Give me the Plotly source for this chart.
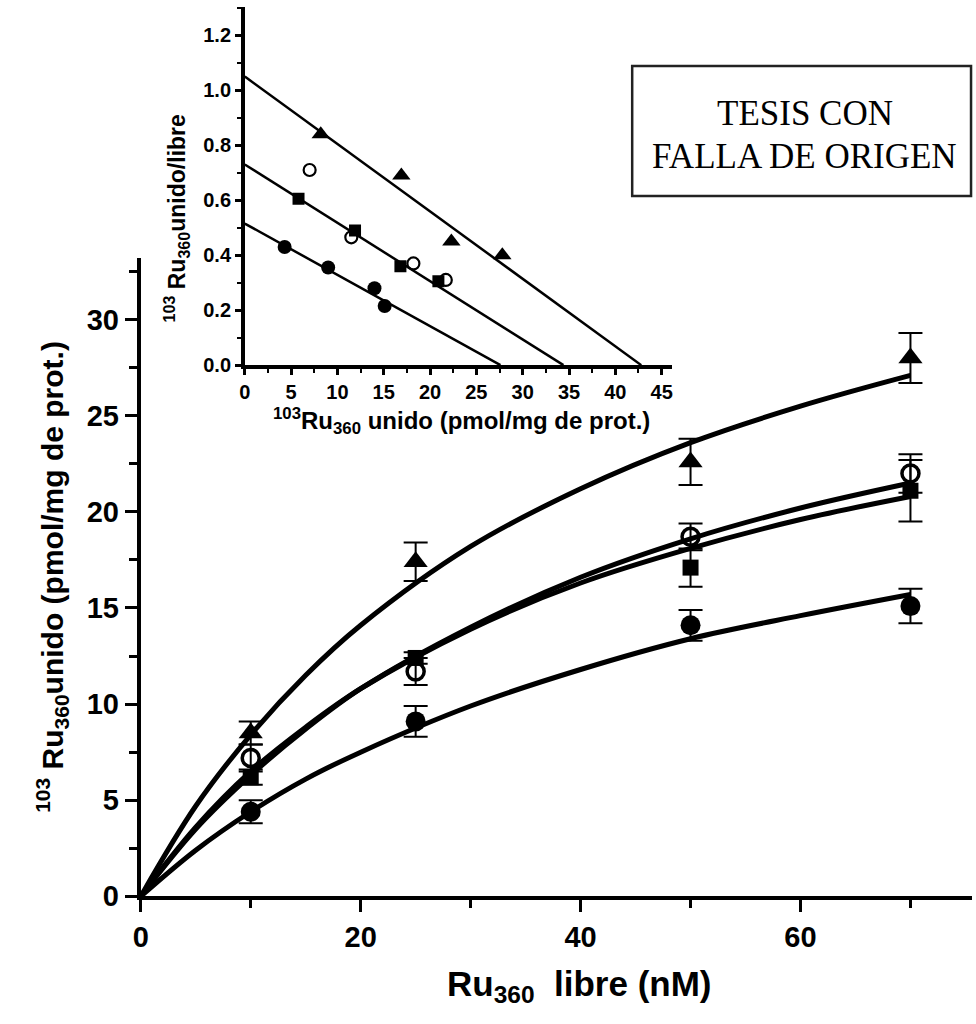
import plotly.graph_objects as go

# ---------------- data ----------------
free_nM = [10, 25, 50, 70]

bound_triangle = [8.5, 17.4, 22.6, 28.0]
err_triangle = [0.6, 1.0, 1.2, 1.3]
bound_open = [7.2, 11.7, 18.7, 22.0]
err_open = [0.7, 0.7, 0.7, 1.0]
bound_square = [6.2, 12.4, 17.1, 21.1]
err_square = [0.4, 0.3, 1.0, 1.6]
bound_filled = [4.4, 9.1, 14.1, 15.1]
err_filled = [0.6, 0.8, 0.8, 0.9]

curve_x = [0, 5, 10, 15, 20, 30, 40, 50, 60, 70]
curve_triangle = [0, 4.7, 8.4, 11.5, 14.1, 18.2, 21.2, 23.6, 25.5, 27.1]
curve_open = [0, 3.5, 6.3, 8.7, 10.8, 14.0, 16.6, 18.6, 20.2, 21.5]
curve_square = [0, 3.6, 6.5, 8.8, 10.8, 13.9, 16.3, 18.1, 19.6, 20.8]
curve_filled = [0, 2.4, 4.4, 6.1, 7.5, 9.9, 11.8, 13.4, 14.6, 15.7]

# Scatchard inset
scat_tri_x = [8.2, 16.9, 22.3, 27.8]
scat_tri_y = [0.84, 0.69, 0.45, 0.40]
scat_open_x = [7.0, 11.5, 18.2, 21.7]
scat_open_y = [0.71, 0.465, 0.37, 0.31]
scat_sq_x = [5.8, 11.9, 16.8, 20.9]
scat_sq_y = [0.605, 0.49, 0.36, 0.305]
scat_fill_x = [4.3, 9.0, 14.0, 15.1]
scat_fill_y = [0.43, 0.355, 0.28, 0.215]

line_top_x = [0, 42.8]
line_top_y = [1.05, 0]
line_mid_x = [0, 34.4]
line_mid_y = [0.73, 0]
line_low_x = [0, 27.6]
line_low_y = [0.515, 0]

main_xticks = [0, 20, 40, 60]
main_yticks = [0, 5, 10, 15, 20, 25, 30]
inset_xticks = [0, 5, 10, 15, 20, 25, 30, 35, 40, 45]
inset_yticks = [0.0, 0.2, 0.4, 0.6, 0.8, 1.0, 1.2]

stamp_lines = ["TESIS CON", "FALLA DE ORIGEN"]

# ---------------- figure ----------------
W, H = 976, 1024
YS = 0.984   # vertical compensation observed in the rendered page
FONT = "Liberation Sans, Arial, sans-serif"
fig = go.Figure()

# fitted curves (main)
for cy in [curve_triangle, curve_open, curve_square, curve_filled]:
    fig.add_trace(go.Scatter(x=curve_x, y=cy, mode="lines",
                             line=dict(color="black", width=5, shape="spline"),
                             xaxis="x", yaxis="y", hoverinfo="skip"))

def pts(y, err, symbol, size, lw=0):
    fig.add_trace(go.Scatter(
        x=free_nM, y=y, mode="markers",
        marker=dict(symbol=symbol, size=size, color="black",
                    line=dict(color="black", width=lw)),
        error_y=dict(type="data", array=err, visible=True, color="black",
                     thickness=2, width=12),
        xaxis="x", yaxis="y"))

pts(bound_triangle, err_triangle, "triangle-up", 21)
pts(bound_square, err_square, "square", 16)
pts(bound_filled, err_filled, "circle", 20)
pts(bound_open, err_open, "circle-open", 17, lw=3.5)

# inset lines
for lx, ly in [(line_top_x, line_top_y), (line_mid_x, line_mid_y), (line_low_x, line_low_y)]:
    fig.add_trace(go.Scatter(x=lx, y=ly, mode="lines",
                             line=dict(color="black", width=2.5),
                             xaxis="x2", yaxis="y2", hoverinfo="skip"))

def ipts(x, y, symbol, size, lw=0):
    fig.add_trace(go.Scatter(x=x, y=y, mode="markers",
                             marker=dict(symbol=symbol, size=size, color="black",
                                         line=dict(color="black", width=lw)),
                             xaxis="x2", yaxis="y2"))

ipts(scat_tri_x, scat_tri_y, "triangle-up", 16)
ipts(scat_sq_x, scat_sq_y, "square", 12)
ipts(scat_fill_x, scat_fill_y, "circle", 14)
ipts(scat_open_x, scat_open_y, "circle-open", 12, lw=2.2)

def px_x(p):
    return p / W

def px_y(p):
    return max(0.0, 1 - p / (H * YS))

axis_common = dict(showgrid=False, zeroline=False, showline=True, linecolor="black",
                   ticks="outside", tickcolor="black")

fig.update_layout(
    width=W, height=H,
    margin=dict(l=0, r=0, t=0, b=0),
    paper_bgcolor="white", plot_bgcolor="rgba(0,0,0,0)",
    showlegend=False,
    font=dict(family=FONT, color="black"),
    xaxis=dict(**axis_common, domain=[px_x(134), px_x(973)], range=[0, 75.6],
               linewidth=4, ticklen=12, tickwidth=3,
               tickvals=main_xticks,
               tickfont=dict(size=29, weight="bold", family=FONT),
               minor=dict(tickvals=[10, 30, 50, 70], ticklen=8, tickwidth=3,
                          tickcolor="black", ticks="outside"),
               anchor="y"),
    yaxis=dict(**axis_common, domain=[px_y(896), px_y(258)], range=[0, 33.2],
               linewidth=4, ticklen=12, tickwidth=3,
               tickvals=main_yticks,
               tickfont=dict(size=29, weight="bold", family=FONT),
               minor=dict(dtick=2.5, ticklen=8, tickwidth=3,
                          tickcolor="black", ticks="outside"),
               anchor="x"),
    xaxis2=dict(**axis_common, domain=[px_x(239), px_x(670)], range=[0, 46.1],
                linewidth=3.5, ticklen=6, tickwidth=2.5,
                tickvals=inset_xticks,
                tickfont=dict(size=20, weight="bold", family=FONT),
                minor=dict(dtick=2.5, ticklen=4, tickwidth=2,
                           tickcolor="black", ticks="outside"),
                anchor="y2"),
    yaxis2=dict(**axis_common, domain=[px_y(365), px_y(7)], range=[0, 1.303],
                linewidth=3.5, ticklen=6, tickwidth=2.5,
                tickvals=inset_yticks, tickformat=".1f",
                tickfont=dict(size=20, weight="bold", family=FONT),
                minor=dict(dtick=0.1, ticklen=4, tickwidth=2,
                           tickcolor="black", ticks="outside"),
                anchor="x2"),
)

annotations = [
    dict(text="<sup>103</sup> Ru<sub>360</sub>unido (pmol/mg de prot.)",
         x=px_x(45), y=px_y(577), textangle=-90,
         font=dict(size=30, weight="bold", family=FONT)),
    dict(text="Ru<sub>360</sub>  libre (nM)",
         x=px_x(576), y=px_y(986),
         font=dict(size=35, weight="bold", family=FONT)),
    dict(text="<sup>103</sup> Ru<sub>360</sub>unido/libre",
         x=px_x(170), y=px_y(218), textangle=-90,
         font=dict(size=23, weight="bold", family=FONT)),
    dict(text="<sup>103</sup>Ru<sub>360</sub> unido (pmol/mg de prot.)",
         x=px_x(458), y=px_y(421),
         font=dict(size=24, weight="bold", family=FONT)),
    dict(text=stamp_lines[0], x=px_x(804), y=px_y(113),
         font=dict(size=35, family="Liberation Serif, serif", color="#000")),
    dict(text=stamp_lines[1], x=px_x(804), y=px_y(156),
         font=dict(size=35, family="Liberation Serif, serif", color="#000")),
]
for a in annotations:
    a.update(xref="paper", yref="paper", showarrow=False,
             xanchor="center", yanchor="middle")
    fig.add_annotation(**a)

fig.add_shape(type="rect", xref="paper", yref="paper",
              x0=px_x(630), x1=px_x(972), y0=px_y(196), y1=px_y(66),
              line=dict(color="#222", width=2.5), fillcolor="rgba(0,0,0,0)")

fig.write_html("out.html",
               config={"displayModeBar": False},
               post_script="document.body.style.margin='0';document.body.style.overflow='hidden';")
